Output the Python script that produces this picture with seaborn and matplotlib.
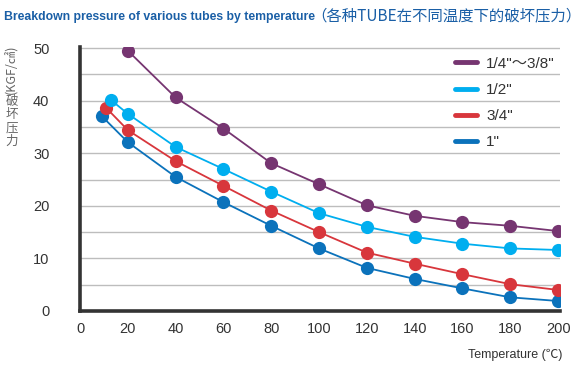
import matplotlib
matplotlib.use("Agg")
import matplotlib.pyplot as plt
import seaborn as sns
import pandas as pd
from matplotlib.lines import Line2D

# ---- data ----
series_names = ['1/4"～3/8"', '1/2"', '3/4"', '1"']
temps_quarter = [20, 40, 60, 80, 100, 120, 140, 160, 180, 200]
press_quarter = [49.5, 40.6, 34.7, 28.1, 24.1, 20.1, 18.1, 16.9, 16.2, 15.2]
temps_half = [13, 20, 40, 60, 80, 100, 120, 140, 160, 180, 200]
press_half = [40.1, 37.5, 31.2, 27.0, 22.7, 18.6, 16.0, 14.1, 12.8, 11.9, 11.6]
temps_three_q = [11, 20, 40, 60, 80, 100, 120, 140, 160, 180, 200]
press_three_q = [38.6, 34.4, 28.5, 23.8, 19.1, 15.0, 11.1, 9.0, 7.0, 5.1, 4.0]
temps_one = [9, 20, 40, 60, 80, 100, 120, 140, 160, 180, 200]
press_one = [37.1, 32.1, 25.5, 20.7, 16.2, 11.9, 8.2, 6.1, 4.3, 2.6, 1.9]
colors = ['#763571', '#00aeef', '#d8363c', '#0b72bb']
x_ticks = [0, 20, 40, 60, 80, 100, 120, 140, 160, 180, 200]
y_ticks = [0, 10, 20, 30, 40, 50]

frames = []
for name, t, p in zip(series_names,
                      [temps_quarter, temps_half, temps_three_q, temps_one],
                      [press_quarter, press_half, press_three_q, press_one]):
    frames.append(pd.DataFrame({"temp": t, "pressure": p, "size": name}))
df = pd.concat(frames, ignore_index=True)

sns.set_style("white")
latin = ['Liberation Sans', 'Noto Sans CJK SC', 'DejaVu Sans']
cjk = ['Noto Sans CJK SC', 'DejaVu Sans']
plt.rcParams['font.family'] = latin

W, H = 585, 365
fig = plt.figure(figsize=(W / 100, H / 100), dpi=100)
ax = fig.add_axes([80 / W, 54 / H, (560 - 80) / W, (311 - 47) / H])

palette = dict(zip(series_names, colors))
sns.lineplot(data=df, x="temp", y="pressure", hue="size", palette=palette,
             hue_order=series_names[::-1], marker='o', markersize=9.5,
             markeredgewidth=0, linewidth=1.3, sort=False, legend=False,
             estimator=None, ax=ax, zorder=3)

ax.set_xlim(0, 200.8)
ax.set_ylim(0, 50.2)
ax.set_xticks(x_ticks)
ax.set_yticks(y_ticks)
ax.set_yticks([5, 15, 25, 35, 45], minor=True)
ax.grid(True, which='both', axis='y', color='#bdbdbd', linewidth=1.0)
ax.grid(False, axis='x')
ax.set_axisbelow(True)
ax.tick_params(axis='both', which='both', length=0, labelsize=10.5,
               labelcolor='#333333')
ax.tick_params(axis='x', pad=8)
ax.tick_params(axis='y', pad=22)
ax.set_xlabel("")
ax.set_ylabel("")
for s in ['top', 'right']:
    ax.spines[s].set_visible(False)
for s in ['left', 'bottom']:
    ax.spines[s].set_color('#333333')
    ax.spines[s].set_linewidth(2.6)

# legend
handles = [Line2D([], [], color=c, linewidth=3.5) for c in colors]
fig.legend(handles, series_names, loc='upper left',
           bbox_to_anchor=(441 / W, 1 - 43 / H), frameon=False,
           prop={'family': latin, 'size': 11},
           handlelength=1.45, handletextpad=0.6,
           labelspacing=0.8, labelcolor='#333333')

# title
fig.text(4 / W, 1 - 20 / H,
         "Breakdown pressure of various tubes by temperature",
         fontsize=8.8, fontweight='bold', color='#1a5fa6',
         family=latin, va='baseline', ha='left')
fig.text(311 / W, 1 - 20 / H, "（各种TUBE在不同温度下的破坏压力）",
         fontsize=11.1, color='#1a5fa6',
         family=cjk, va='baseline', ha='left')

# y label
fig.text(12 / W, 1 - 69 / H, "(KGF/㎠)", rotation=90, fontsize=9,
         color='#666666', ha='center', va='center', family=cjk)
for i, ch in enumerate("破坏压力"):
    fig.text(12 / W, 1 - (101 + i * 13.5) / H, ch, fontsize=9,
             color='#666666', ha='center', va='center', family=cjk)

# x label
fig.text(562 / W, 1 - 355 / H, "Temperature (℃)", fontsize=9,
         color='#333333', ha='right', va='center', family=latin)

fig.savefig("out.png", dpi=100)
